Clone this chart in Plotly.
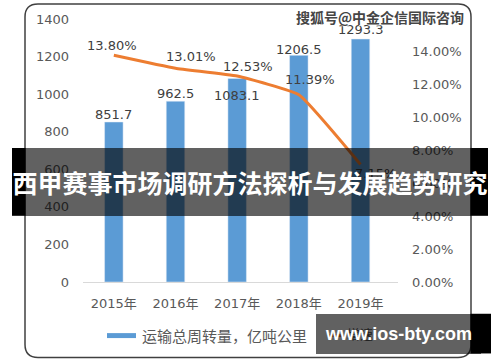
import plotly.graph_objects as go

years = ["2015年", "2016年", "2017年", "2018年", "2019年"]
volume = [851.7, 962.5, 1083.1, 1206.5, 1293.3]
growth = [0.1380, 0.1301, 0.1253, 0.1139, 0.0715]
bar_name = "运输总周转量，亿吨公里"
line_name = "增速"
left_ticks = [0, 200, 400, 600, 800, 1000, 1200, 1400]
right_ticks = [0, 0.02, 0.04, 0.06, 0.08, 0.10, 0.12, 0.14]
banner_text = "西甲赛事市场调研方法探析与发展趋势研究"
watermark = "搜狐号@中金企信国际咨询"
site_text = "www.ios-bty.com"

W, H = 500, 362
L, R, T, B = 83, 398, 17, 282


def px(x):
    return (x - L) / (R - L)


def py(y):
    return (B - y) / (B - T)


FONT = "DejaVu Sans, Noto Sans CJK SC, sans-serif"
GRAY = "#595959"
LBL = "#404040"

fig = go.Figure()
fig.add_trace(go.Bar(x=years, y=volume, name=bar_name, marker_color="#5B9BD5",
                     width=0.3, showlegend=False))
fig.add_trace(go.Scatter(x=years, y=growth, name=line_name, yaxis="y2", mode="lines",
                         line=dict(color="#ED7D31", width=3, shape="spline", smoothing=0.35),
                         showlegend=False))

annotations = []
bar_shift = [8, 8, -17, 6, 10]
for c, v, s in zip(years, volume, bar_shift):
    annotations.append(dict(x=c, y=v, xref="x", yref="y", text=f"{v}", showarrow=False,
                            yshift=s, font=dict(size=13, color=LBL, family=FONT)))
line_shift = [(-2, 10), (15, 12), (11, 10), (11, 15), (15, -9)]
for c, v, (dx, dy) in zip(years, growth, line_shift):
    annotations.append(dict(x=c, y=v, xref="x", yref="y2", text=f"{v*100:.2f}%", showarrow=False,
                            xshift=dx, yshift=dy, font=dict(size=13, color=LBL, family=FONT)))

# legend (manual)
annotations.append(dict(x=px(140), y=py(336), xref="paper", yref="paper", xanchor="left",
                        yanchor="middle", text=bar_name, showarrow=False,
                        font=dict(size=15, color=GRAY, family="Noto Sans CJK SC")))
annotations.append(dict(x=px(345), y=py(334), xref="paper", yref="paper", xanchor="left",
                        yanchor="middle", text=line_name, showarrow=False,
                        font=dict(size=13, color=GRAY, family="Noto Sans CJK SC")))

# watermark
annotations.append(dict(x=px(380), y=py(15), xref="paper", yref="paper", text=watermark,
                        showarrow=False, xanchor="center", yanchor="middle",
                        font=dict(size=14, color="#454545", family="Noto Sans CJK SC",
                                  weight="bold", shadow="1px 1px 1px #ffffff")))

# banner overlay
annotations.append(dict(x=px(250), y=py(181), xref="paper", yref="paper", text=banner_text,
                        showarrow=False, xanchor="center", yanchor="middle",
                        width=476, height=68, bgcolor="rgba(0,0,0,0.62)", borderpad=0,
                        borderwidth=0,
                        font=dict(size=25, color="white", family="Noto Sans CJK SC",
                                  weight="bold")))
# site box
annotations.append(dict(x=px(398.5), y=py(334), xref="paper", yref="paper", text=site_text,
                        showarrow=False, xanchor="center", yanchor="middle",
                        width=165, height=40, bgcolor="rgba(0,0,0,0.62)", borderpad=0,
                        borderwidth=0,
                        font=dict(size=18, color="white", family="Liberation Sans",
                                  weight="bold")))

shapes = []
# rounded border
x0, x1, y0, y1, r = px(25), px(471), py(2), py(358), 13
rx, ry = r / (R - L), r / (B - T)
path = (f"M{x0+rx},{y0} L{x1-rx},{y0} Q{x1},{y0} {x1},{y0-ry} "
        f"L{x1},{y1+ry} Q{x1},{y1} {x1-rx},{y1} L{x0+rx},{y1} Q{x0},{y1} {x0},{y1+ry} "
        f"L{x0},{y0-ry} Q{x0},{y0} {x0+rx},{y0} Z")
shapes.append(dict(type="path", path=path, xref="paper", yref="paper",
                   line=dict(color="#404040", width=1.5), layer="below"))
# legend swatches
shapes.append(dict(type="rect", xref="paper", yref="paper", x0=px(107), x1=px(136),
                   y0=py(338.5), y1=py(333.5), fillcolor="#5B9BD5", line=dict(width=0)))
shapes.append(dict(type="line", xref="paper", yref="paper", x0=px(328), x1=px(342),
                   y0=py(336), y1=py(336), line=dict(color="#ED7D31", width=3)))
# black edges of overlays
shapes.append(dict(type="rect", xref="paper", yref="paper", x0=px(12), x1=px(25.5),
                   y0=py(215), y1=py(147), fillcolor="black", line=dict(width=0)))
shapes.append(dict(type="rect", xref="paper", yref="paper", x0=px(470.5), x1=px(488),
                   y0=py(215), y1=py(147), fillcolor="black", line=dict(width=0)))
shapes.append(dict(type="rect", xref="paper", yref="paper", x0=px(470.5), x1=px(491),
                   y0=py(354), y1=py(314), fillcolor="black", line=dict(width=0)))

fig.update_layout(
    width=W, height=H,
    margin=dict(l=L, r=W - R, t=T, b=H - B),
    paper_bgcolor="white", plot_bgcolor="white",
    font=dict(family=FONT, size=13, color=GRAY),
    bargap=0.7,
    hovermode=False,
    xaxis=dict(showline=True, linecolor="#d9d9d9", linewidth=1, ticks="",
               showgrid=False, tickfont=dict(size=13, color=GRAY, family=FONT),
               ticklabelstandoff=9),
    yaxis=dict(range=[0, 1400], tickvals=left_ticks, showgrid=False, zeroline=False,
               showline=False, tickfont=dict(size=13, color=GRAY, family=FONT),
               ticklabelstandoff=13),
    yaxis2=dict(range=[0, 0.16], tickvals=right_ticks, tickformat=".2%", overlaying="y",
                side="right", showgrid=False, zeroline=False, showline=False,
                tickfont=dict(size=13, color=GRAY, family=FONT), ticklabelstandoff=13),
    annotations=annotations,
    shapes=shapes,
    showlegend=False,
)

fig.write_html("out.html", config={"displayModeBar": False},
               post_script="document.body.style.margin='0';document.body.style.padding='0';")
